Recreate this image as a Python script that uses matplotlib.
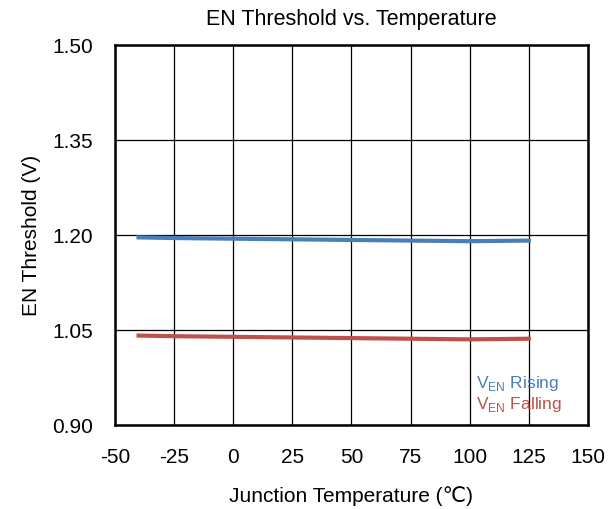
import matplotlib.pyplot as plt

plt.rcParams['font.family'] = ['Liberation Sans', 'DejaVu Sans']
plt.rcParams['mathtext.fontset'] = 'custom'
plt.rcParams['mathtext.rm'] = 'Liberation Sans'
plt.rcParams['axes.unicode_minus'] = False

# dados
temperatura = [-40, -25, 0, 25, 50, 75, 100, 125]
ven_subida = [1.196, 1.195, 1.194, 1.193, 1.192, 1.191, 1.190, 1.191]
ven_descida = [1.041, 1.040, 1.039, 1.038, 1.037, 1.036, 1.035, 1.036]

fig = plt.figure(figsize=(6.08, 5.10), dpi=100)
ax = fig.add_axes([0.189, 0.165, 0.778, 0.745])

ax.plot(temperatura, ven_subida, color='#4a7ebb', linewidth=3, label=r'V$_{\mathrm{EN}}$ Rising')
ax.plot(temperatura, ven_descida, color='#c0504d', linewidth=3, label=r'V$_{\mathrm{EN}}$ Falling')

ax.set_xlim(-50, 150)
ax.set_ylim(0.90, 1.50)
ax.set_xticks(range(-50, 151, 25))
ax.set_yticks([0.90, 1.05, 1.20, 1.35, 1.50])
ax.set_yticklabels(['0.90', '1.05', '1.20', '1.35', '1.50'])
ax.grid(True, color='black', linewidth=0.9)
ax.tick_params(length=0, labelsize=15, pad=16)
for s in ax.spines.values():
    s.set_linewidth(1.8)

ax.set_xlabel('Junction Temperature (℃)', fontsize=15, labelpad=14)
ax.set_ylabel('EN Threshold (V)', fontsize=15, labelpad=8)
ax.set_title('EN Threshold vs. Temperature', fontsize=15.5, pad=15)

leg = ax.legend(loc='lower right', bbox_to_anchor=(0.97, 0.0), frameon=False,
                handlelength=0, handletextpad=0, labelcolor='linecolor',
                fontsize=12.5, labelspacing=0.1, borderpad=0.2)
for h in leg.legend_handles:
    h.set_visible(False)

plt.savefig('out.png')
